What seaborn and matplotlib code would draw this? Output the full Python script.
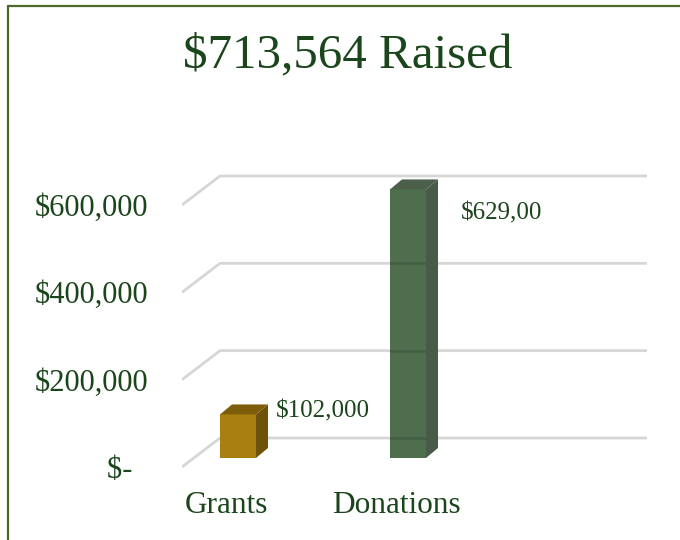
import matplotlib
matplotlib.use("Agg")
import matplotlib.pyplot as plt
import matplotlib.transforms as mtransforms
from matplotlib.patches import Polygon
from matplotlib.lines import Line2D
import seaborn as sns
import pandas as pd

# ---- data ----
categories = ["Grants", "Donations"]
amounts = [102000, 629000]
bar_labels = ["$102,000", "$629,00"]
tick_values = [0, 200000, 400000, 600000]
tick_labels = ["$-  ", "$200,000", "$400,000", "$600,000"]
title = "$713,564 Raised"

# ---- style ----
front_colors = ["#a97f0f", "#4e6e4e"]
side_colors = ["#6d5308", "#485b48"]
top_colors = ["#7e5e0a", "#4b5f4b"]
text_color = "#1b451b"
grid_color = "#d6d6d6"
border_color = "#4a6a2c"

sns.set_style("white")
plt.rcParams['font.family'] = ['Liberation Serif', 'DejaVu Serif']

W, H = 680, 540
fig = plt.figure(figsize=(W / 100, H / 100), dpi=100)

# layout in pixels
ax_left, ax_right, ax_top, ax_bottom = 182, 647, 160, 470
rect = [ax_left / W, 1 - ax_bottom / H, (ax_right - ax_left) / W, (ax_bottom - ax_top) / H]
cat_px = 170.0          # pixels per category step
first_center = 238.0    # pixel x of first bar
bar_w_px = 36.0
depth_dx, depth_dy = 12.0, 10.0     # bar depth in px
wall_dx, wall_dy = 38.0, 29.0       # floor depth in px

# grid / wall axes (front edge of floor: value 0 at pixel 467)
scale_g = 0.4367 / 1000
zero_g = 467
axg = fig.add_axes(rect, zorder=0)
axg.set_xlim(0, 1)
axg.set_ylim(-(ax_bottom - zero_g) / scale_g, (zero_g - ax_top) / scale_g)
gtrans = mtransforms.blended_transform_factory(axg.transAxes, axg.transData)
wx = wall_dx / (ax_right - ax_left)
wy = wall_dy / scale_g
for v in tick_values:
    axg.plot([0, wx, 1], [v, v + wy, v + wy], color=grid_color, lw=2.0,
             transform=gtrans, solid_capstyle="butt")
axg.set_xticks([])
axg.set_yticks(tick_values, tick_labels)
axg.tick_params(axis="y", length=0, pad=24.5, labelsize=22, labelcolor=text_color)
for s in axg.spines.values():
    s.set_visible(False)

# bar axes (bar front plane: value 0 at pixel 458)
scale_b = 0.427 / 1000
zero_b = 458
ax = fig.add_axes(rect, zorder=1)
ax.patch.set_alpha(0)
df = pd.DataFrame({"category": categories, "amount": amounts})
sns.barplot(data=df, x="category", y="amount", hue="category",
            palette=front_colors, saturation=1, width=bar_w_px / cat_px,
            legend=False, ax=ax, linewidth=0)
ax.set_xlim(-(first_center - ax_left) / cat_px, (ax_right - first_center) / cat_px)
ax.set_ylim(-(ax_bottom - zero_b) / scale_b, (zero_b - ax_top) / scale_b)

dx = depth_dx / cat_px
dy = depth_dy / scale_b
label_offsets = [(8, 3), (23, -24)]   # px from bar's right-back edge / top
for i, p in enumerate(ax.patches):
    x0, y0, w, h = p.get_x(), p.get_y(), p.get_width(), p.get_height()
    x1, y1 = x0 + w, y0 + h
    side = Polygon([(x1, y0), (x1 + dx, y0 + dy), (x1 + dx, y1 + dy), (x1, y1)],
                   closed=True, facecolor=side_colors[i], edgecolor="none", zorder=3)
    top = Polygon([(x0, y1), (x0 + dx, y1 + dy), (x1 + dx, y1 + dy), (x1, y1)],
                  closed=True, facecolor=top_colors[i], edgecolor="none", zorder=3)
    ax.add_patch(side)
    ax.add_patch(top)
    ox, oy = label_offsets[i]
    ax.text(x1 + dx + ox / cat_px, y1 + oy / scale_b, bar_labels[i],
            ha="left", va="center", fontsize=18, color=text_color, zorder=5)

# faint grid showing through the tall bar
donation_patch = ax.patches[1]
for v in tick_values:
    ln = Line2D([0, wx, 1], [v + wy, v + wy, v + wy], color="black", alpha=0.12,
                lw=2.0, transform=gtrans, zorder=4)
    ax.add_line(ln)
    ln.set_clip_path(donation_patch)

ax.set_yticks([])
ax.set_xlabel("")
ax.set_ylabel("")
ax.set_xticks(range(len(categories)), categories)
ax.tick_params(axis="x", length=0, pad=15, labelsize=22.5, labelcolor=text_color)
shift = mtransforms.ScaledTranslation(-12 / 100, 0, fig.dpi_scale_trans)
for lab in ax.get_xticklabels():
    lab.set_transform(lab.get_transform() + shift)
for s in ax.spines.values():
    s.set_visible(False)

# title
fig.text(348 / W, 1 - 55 / H, title, ha="center", va="center",
         fontsize=35.3, color=text_color)

# border (only top and left visible)
fig.add_artist(Line2D([7.5 / W, 7.5 / W], [0, 1 - 5.5 / H], color=border_color, lw=1.6,
                      transform=fig.transFigure))
fig.add_artist(Line2D([7.5 / W, 1], [1 - 5.5 / H, 1 - 5.5 / H], color=border_color, lw=1.6,
                      transform=fig.transFigure))

fig.savefig("out.png", dpi=100)
